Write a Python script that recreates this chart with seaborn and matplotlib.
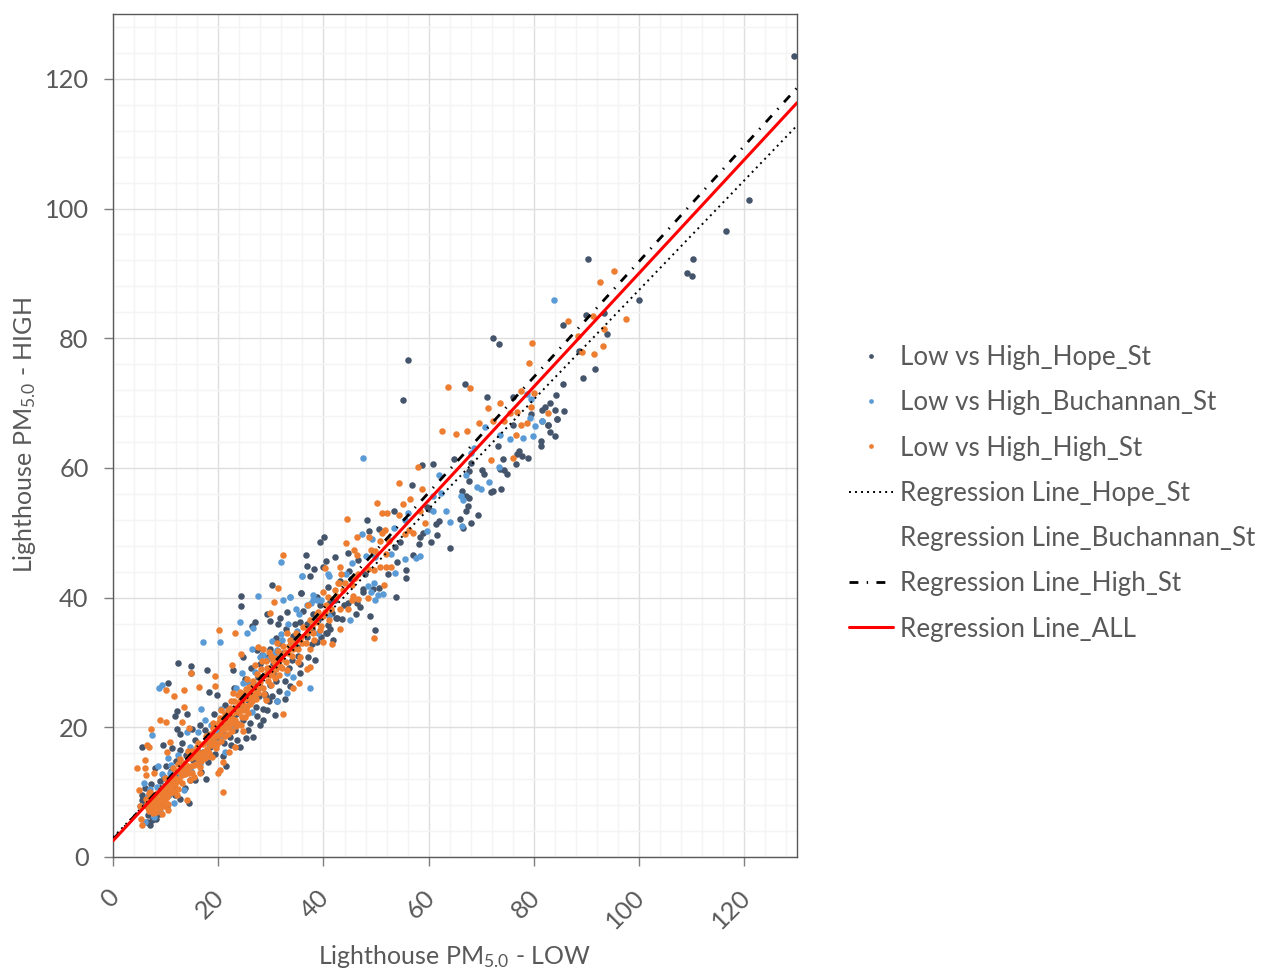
import matplotlib
matplotlib.use('Agg')
import matplotlib.pyplot as plt
from matplotlib.lines import Line2D
from matplotlib.transforms import ScaledTranslation
import seaborn as sns
import pandas as pd

# values as (low, high)
hope_pts = [
(73.4,79.1),(72.2,80),(56,76.7),(55.1,70.5),(66.9,73),(71,70.9),(76,71),(84.2,71.3),(83.1,70),(82.1,69.4),(81.5,69),(84,69),(79.4,68.3),
(84.3,67.6),(81.5,67.3),(76,66.6),(82.6,66.6),(84,64.9),(81.3,64.1),(81.3,63.4),(73.1,63.4),(77.1,62.6),(76.7,62.1),(77.7,61.9),
(78.8,61.6),(74.2,61.4),(76.6,60.6),(64.8,61.3),(58.7,60.4),(60.8,60.6),(68,60.8),(67.7,59.6),(70.2,59.7),(70.5,59),(73.6,59.8),
(74.3,59.7),(74.8,59),(67.6,58),(56.8,57.3),(73.7,56.7),(72.3,56.4),(71.8,56.3),(66.4,56.4),(67,55.6),(67.7,55.3),(67.4,54.2),
(67,53.3),(69.3,52.7),(66,52.1),(68.1,51.5),(66.5,50.8),(61.9,51.8),(61.4,51.3),(59.6,54),(60,53.7),(53.4,53.4),(48.2,51.9),
(50.6,50.6),(48.7,50.3),(61.5,49.7),(59,49.9),(58.4,49.4),(60.5,48.6),(64,47.7),(58.2,48.2),(54.6,48.6),(53.6,47.8),(40.1,49.4),
(39.4,48.6),(36.6,46.5),(44.6,46.9),(42.1,46.3),(40.5,45.6),(36.8,44.9),(38.2,44.4),(40,44.7),(57.1,46.5),(53.9,45.5),(55.6,44.3),
(55.6,43),(52.2,43.6),(37.4,43.4),(35.8,40.7),(47.6,41.4),(47.6,40.9),(50.6,41.5),(49.5,41.4),(53.7,40.1),(41.3,39.3),(42.2,39.6),
(44.7,39.1),(46.4,39.2),(47,38.5),(46.2,37.4),(48.9,37.1),(42.4,36.8),(43.5,36.7),(40.8,35.7),(49.8,35),(40.4,34.5),
(129.5,123.5),(120.9,101.3),(116.5,96.6),(110.2,92.2),(90.2,92.2),(109.1,90.1),(110,89.6),(99.9,85.9),(89.9,83.6),(93.4,83.9),
(85.6,82),(93.9,80.7),(88.6,78),(91.7,75.2),(89.3,73.9),(85.6,73),(85.8,68.8),(84.4,67.6),(82.7,66.6),(83.1,65.6),
(24.3,40.3),(24.3,38.7),(35.8,40.7),(30.2,42),(26.9,36.3),(26.5,35.6),(29.2,37.4),(29.8,36.4),(31.8,36.8),(31.4,36),(33,37.8),
(34.6,36),(35.6,36.3),(38.1,37.5),(39.4,38.8),(41.3,39.1),(42.5,36.8),(40.6,34.5),(38.7,33.2),(41.9,33.4),(38.4,30.4),(37.1,30.9),
(35.6,29.8),(12.4,29.9),(14.8,29.5),(17.9,28.9),(14.8,28.3),(22.9,28.9),(10.4,26.9),(18.2,25.4),(19.7,25),(12.1,22.5),(14.1,22),
(11.7,21.8),(12.2,19.7),(12.8,18.9),(9.5,17.2),(5.6,16.9),(13.1,17.6),(15,19.8),(16.5,20.3),(17.8,18.3),(8,13.8),(11.2,16.8),
(12.7,16.5),(21.4,14),(21,15.5),(17.7,12),(14.5,8.3),(12.7,9),(7.4,5.7),(6.4,5.4),(7,5),(5.6,9.5),(6.1,8),(5.5,8.8),(22.9,21.6),
(24.8,21.1),(26,20.6),(28,20.3),(28.6,21.1),(26.6,18.5),(25.2,18.4),(23.6,18),(24.1,16.9),(22.2,18.5),(30.8,21.9),(32.7,24.3),
(31.1,24),(29.2,22.6),(28.6,22.9),(29.9,26.5),(28.9,25.2),(27.9,26.2),(30.5,28.3),(27.9,29.8),(24.8,30.9),(27.3,31.9),(29.9,32.1),
(35.6,28.3),(9.6,12.4),(12.1,12.9),(14.6,11.9),(16.5,14.9),(18.5,17),(19.7,18.5),(15.9,16.5),(14,13.9),(11.5,10.8),(8.3,8.8),
(7,7.2),(8.9,10.3),(20.3,20.1),(21.6,20.6),(24.1,23.2),(26,25.2),(26.7,26.8),(27.6,27.8),(30.5,29.8),(32.4,31.4),(34.9,32.4),
(36.8,33.9),(39,36.5),(36.8,36),(41.3,35.2),(33.8,33.1),(35.2,31),(37.9,32.8),(31,27.2),(33.4,29.1),(34.1,30.4),(29,24.6),
(25.1,27.5),(23,26.1),(21.2,23.4),(19.2,22.1),(17.4,19.6),(15.6,18.1),(13.8,15.7),(11.9,14.8),(10.1,14.1),(9,11.7),(22.4,17.2),
(26.2,29.2),(28.3,31.2),(30.9,33.8),(32.9,35.2),(34.2,34.1),(36.1,37.9),(37.8,35.2),(39.6,33.9),(31.6,33),(29.5,30.9),(27.1,23.1),
(29.7,24),(31.5,25.6),(32.6,27.1),(33.7,26.4),(30.2,24.9),(27.4,21.8),(25.6,19.6),(23.1,19.6),(21.1,17.6),(19.4,15.9),(18.1,14.6),
(16.8,13.1),(15.5,11.8),(13.6,10.7),(11.8,9.6),(10.2,7.9),(8.7,6.6),(9.9,10.7),(11,13.3),(12.9,14.2),(15.2,15),(17.2,16.2),(20.8,19.2),
(23.4,22.1),(25.7,24.2),(27.8,24.8),(6.7,6.4),(8.1,5.9),(6,10.6),(7.3,11.2),(38.8,40.1),(40.9,41.6),(43.1,42.6),(44.9,44.1),(46.6,45.8),
(41.7,37.6),(43.9,38.9),(45.3,42.9),(47.9,43.6),
]

buchanan_pts = [
(47.5,61.5),(78.7,71.4),(79.5,70.6),(79.2,67.7),(81.5,67.3),(80.2,66.4),(70.7,66.3),(73.6,65),(75.5,64.4),(77.9,64.6),(79.8,64.9),
(68.7,63),(68.1,62.3),(73.3,60.2),(62,58.9),(67,58.9),(71.4,57.9),(69.1,57),(70,56.7),(60.8,55.7),(62.4,56.1),(66.2,55.7),(66.5,55),
(60.8,53.4),(63.2,53.4),(56,53),(55.5,52),(64,51.6),(66.3,51.1),(53.4,50.7),(47.4,49.8),(49.2,49),(59.7,50.2),(52.3,49.1),(58.4,46.4),
(57.5,46.1),(55.5,45.9),(52.8,46.7),(48.1,46.4),(49.8,46.3),(45.4,45.4),(31.9,45.5),(44.2,43.6),(36,43.4),(41,43.4),(53.6,43.8),
(49.7,42.3),(48.4,41.8),(49,40.9),(51.3,40.6),(50.4,40.4),(49.8,39.6),(33.7,40.1),(38.1,40.4),(38.1,39.6),(39.5,39.6),(41.1,37.2),
(45.1,36.5),(38.9,34.6),(83.9,85.9),(35.9,43.4),(40.8,43.6),(27.5,40.3),(33.6,40.1),(38.7,39.6),(24.1,36.3),(25.4,34.5),(26.7,35.3),
(17.2,33.2),(20.4,33.2),(32.3,39.6),(35.3,37.5),(33.3,36),(30.8,31.4),(31.1,31.9),(26.4,32.1),(27.9,30.9),(24.5,28.3),(25.4,27),
(33,28.3),(34.3,27.8),(37.4,26),(33,25.3),(31.1,24),(9.3,26.6),(8.8,26.1),(16.7,22.8),(7.5,18.8),(14.1,19.3),(17.5,21.1),(14.6,17),
(10.5,15.2),(8.6,14),(10.8,12.9),(5.8,11.4),(8.3,10.8),(13.4,10.3),(12.7,12.9),(16.5,14.4),(21.3,16.2),(17.8,16),(26.4,22.4),(24.8,26.8),
(11.5,8.3),(6.1,5.4),(7.7,6.2),(5.1,7.8),(19.7,19.6),(15.9,15.5),(10.2,11.9),(29.4,30.6),(32.1,33.4),(35,34.9),(22.6,19.9),(18.7,20.4),
(34.7,38.2),(36.9,38.9),(37.6,39.1),(30.3,33.3),(31.9,34.4),(28.6,31.1),(26.9,28.6),(23.4,26),(20.6,22.9),(16.1,19.2),(12.4,15.7),
(11.1,14.2),(9.4,12.8),(7.1,10.5),(6.6,9.4),(8.9,7.1),(10.6,9.6),(14.9,13.2),(18.2,17.4),(20.9,18.6),(27.2,25.4),(29.6,28.6),
]

high_pts = [
(79.7,79.2),(79,76.2),(63.6,72.5),(67.8,72.3),(77.6,71.8),(80,71.5),(73.6,70),(71.2,69.3),(79.4,69.4),(75.5,68.4),(76.7,68.6),(82.6,68.4),
(72.3,67.3),(74.3,67.2),(69.5,67),(78.6,67),(77.6,66.6),(62.6,65.7),(65.1,65.3),(67.2,65.7),(76.5,65),(71.8,61.2),(76.1,61.5),(58,60.2),
(54.3,57.7),(58.7,56.7),(56.5,55.2),(50.1,54.6),(55.1,54.4),(51.1,53),(52,53),(58.4,53.4),(54.4,52.8),(44.5,52.2),(59.3,51.5),(32.3,46.5),
(51.7,50.4),(51.1,50),(48.7,49.4),(46.4,49.3),(44.2,48.4),(50.8,48.7),(55.5,49.8),(57,50),(56.3,50.5),(52.5,48.8),(49,47.4),(45.8,47.4),
(46.4,46.6),(49.8,47.2),(51.9,46.7),(40.3,44.6),(43.2,44.7),(43.4,43.6),(50.8,44.7),(51.9,44.7),(52.8,44.7),(49.6,44.2),(48.4,44.4),
(46.5,43.6),(46,43),(42.9,42.2),(51.6,42),(45.4,41.9),(43.8,41.1),(42.1,41.1),(39.9,40.9),(45.6,40.2),(45.4,39.7),(46.6,39.8),(48.5,40),
(43.2,38.3),(44.6,38.2),(40.2,37.8),(43.2,35.1),(49.7,33.7),(37.1,38.8),
(95.3,90.3),(92.6,88.6),(91.3,83.5),(86.5,82.6),(97.5,83),(88.3,80.3),(93.4,81.5),(89.2,77.8),(91.5,77.6),(93.1,78.8),
(31.4,41.5),(42.8,42.2),(30.6,39.3),(29.9,37.6),(20.1,35),(23.2,34.5),(27.6,32.4),(28.6,32.1),(24.3,31.3),(22.7,29.6),(19.4,27.9),
(14.8,28.3),(19.3,26.4),(16.4,26.2),(13.5,25.7),(10.1,25.7),(11.5,24.8),(13.5,23.2),(8.9,21.2),(10.1,20.8),(13.2,20.8),(7.2,19.7),
(14.5,19.9),(6.4,17.2),(6.8,16.9),(10.9,17.7),(10.3,16.2),(6.1,15),(4.5,13.7),(6.1,13.7),(6.3,12.6),(7.8,12.9),(20.9,10),(20,12.9),
(20.3,13.4),(21,14.7),(22.1,16.2),(23.2,17),(24.7,19.4),(32.3,22.1),(29.1,24.2),(35.3,26.8),(34.2,26),(36.8,29),(37.5,29.3),(35.6,30.9),
(37.5,32),(40,33.2),(41.6,32.9),(5.3,5.8),(5.5,4.9),(5.1,7.8),(5,10.4),(14,8.8),(10.5,7.2),(9.3,6.6),
(6.5,8.2),(7,9.1),(7.4,7.6),(7.8,8.7),(8,9.6),(8.3,7.9),(8.6,8.9),(8.9,10),(9.1,8.3),(9.4,9.3),(6.9,7.1),(7.6,6.8),(8.2,7),(9,7.5),
(9.8,8.8),(10,9.9),(10.3,10.8),(10.6,11.6),(10.9,9.8),(11.2,10.7),(11.5,12.3),(11.8,11.2),(12,13.2),(12.3,10.5),(12.6,12),(12.9,13.6),
(13.1,11.4),(13.4,14.5),(13.7,12.8),(14,13.4),(14.3,15.2),(14.6,11.9),(14.8,14.1),(15.1,13),(15.4,15.9),(15.7,14.4),(16,16.8),(16.3,15.2),
(16.6,13.9),(16.9,16.1),(17.2,17.4),(17.5,15.3),(17.8,16.7),(18,18.2),(18.3,16),(18.6,17.3),(18.9,19),(19.2,17.8),(19.5,16.8),(19.8,18.6),
(20,20.2),(20.3,19),(20.6,17.9),(20.8,21),(21.1,19.8),(21.3,22.1),(21.6,20.3),(21.8,18.9),(22,21.5),(22.3,23),(22.5,20.7),(22.8,22.2),
(23,24),(23.2,21.2),(23.5,23.1),(23.7,25),(24,22.3),(24.2,24.1),(24.5,21.6),(24.7,23.4),(25,25.3),(25.2,22.8),(25.5,24.5),(25.8,26.2),
(26,23.6),(26.3,25.4),(26.6,27.2),(26.8,24.6),(27,26),(27.3,28.2),(27.6,25.3),(27.9,27),(28.2,29),(28.5,26.1),(28.8,28),(29.1,30.2),
(29.4,27.2),(29.7,29.1),(30,31),(30.3,28.4),(30.6,30),(31,29),(31.3,31.7),(31.6,28),(32,30.6),(32.4,32.6),(32.8,30),(33.2,31.4),
(33.6,33.5),(34,31),(34.4,33),(34.8,34.6),(35.2,32.1),(35.7,34),(36.2,35.5),(36.6,33),(37,35),(37.5,36.6),(38,34.5),(38.5,36.2),
(39,37.8),(39.5,35.6),(40,37.2),(40.5,38.8),(41,36.5),(41.5,38.2),
(21,20.4),(21.9,22.6),(22.7,21.3),(23.3,22.6),(23.9,23.8),(24.4,22.8),(24.9,24.4),(25.4,23.3),(25.9,25),(22.1,20),(23.6,20.7),(24.6,25.2),
(20.4,21.4),(26.5,24),(21.5,21.4),(16.2,17.6),(15,16.4),(13.6,13.2),(12.4,14.3),(11.3,11.9),(17,15.1),(18.4,18.9),(19.1,19.9),(7.2,8.4),
(8.5,8.2),(9.2,10.5),(7.9,9.2),(6.8,9.8),(9.6,7.9),(28.4,30.2),(29.3,28.4),(30.9,30.7),(31.8,29.4),
(6.2,9),(6.6,7.5),(7.1,10),(7.7,7.9),(8.4,9.9),(8.8,7.7),(9.3,9.9),(9.7,10.4),(10.2,9.2),(10.8,10.6),(11.1,11.5),(11.6,10),(12.2,11.7),
(12.7,13.1),(13.2,12.6),(13.9,14.2),(14.4,13),(14.9,15.3),(15.3,14.2),(15.8,15.4),(16.4,16.1),(16.8,14.8),(17.3,16.2),(17.7,17.7),(18.2,15.6),
(18.7,18.1),(19.3,18.6),(19.7,17.4),(20.2,20.8),(20.7,19.6),(21.2,18.6),(21.7,21.2),(22.2,22.2),(22.6,19.4),(23.1,23),(23.4,20.2),(23.8,22.4),
(24.3,20.4),(24.6,24.6),(25.1,21.6),(25.3,25.9),(25.7,22.2),(26.1,24.7),(26.4,26.3),(26.9,25.1),(27.2,24.4),(27.7,26.2),(28.1,27.8),(28.7,25.2),
(29.2,29.2),(29.8,28),(30.4,30.4),(30.8,27.6),(31.4,30.4),(32.1,29.1),(32.6,31.6),(33.4,32.5),(34.2,32.1),(35,33.4),(35.9,33),(36.8,34.5),
(37.8,35.6),(38.7,37.4),(24.1,25.4),(22.4,24.1),(21.9,20),(23,22.6),(24.8,22.6),(26.7,25.9),
(9.9,12.2),(11.4,13.8),(12.8,15.1),(14.2,16.4),(15.9,17),(17.6,18.7),(19.1,20.6),(20.6,22.6),(16.6,12.9),(15.3,12.4),(18.9,15.4),
(22.9,25.3),(25.4,27.4),(27,29.6),(29.6,31.6),(31.2,33),(33.1,34.6),(30.1,26.6),(33,28.9),(35.1,30),(38.2,33.4),(39.3,35),
(40.9,40.1),(42.4,40.3),(44.1,42.3),(12.2,9.5),(10.4,8.1),
]

line_x = [0, 130]
hope_line = [3.0, 112.8]
high_line = [2.7, 118.6]
all_line = [2.5, 116.3]

low_ticks = [0, 20, 40, 60, 80, 100, 120]
minor_ticks = list(range(0, 131, 4))

names_pts = ['Low vs High_Hope_St', 'Low vs High_Buchannan_St', 'Low vs High_High_St']
names_lines = ['Regression Line_Hope_St', 'Regression Line_Buchannan_St', 'Regression Line_High_St', 'Regression Line_ALL']
colors = ['#44546A', '#5B9BD5', '#ED7D31']
dots = (0, (1, 2.1))
dash_dot = (0, (3.2, 3, 0.5, 3))

sns.set_theme(style='white')
plt.rcParams['font.family'] = ['Lato', 'DejaVu Sans']
plt.rcParams['mathtext.default'] = 'regular'

fig = plt.figure(figsize=(12.62, 9.69), dpi=100)
ax = fig.add_axes([113 / 1262, 1 - 857 / 969, 684 / 1262, 843 / 969])

for pts, name, col in zip([hope_pts, buchanan_pts, high_pts], names_pts, colors):
    df = pd.DataFrame(pts, columns=['low', 'high'])
    sns.scatterplot(x='low', y='high', data=df, color=col, s=22, linewidth=0, ax=ax, zorder=3)

sns.lineplot(x=line_x, y=hope_line, color='black', linewidth=1.4, linestyle=dots, ax=ax, zorder=4)
sns.lineplot(x=line_x, y=high_line, color='black', linewidth=2, linestyle=dash_dot, ax=ax, zorder=4)
sns.lineplot(x=line_x, y=all_line, color='#FF0000', linewidth=2.2, ax=ax, zorder=5)

ax.set_xlim(0, 130)
ax.set_ylim(0, 130)
ax.set_xticks(low_ticks)
ax.set_yticks(low_ticks)
ax.set_xticks(minor_ticks, minor=True)
ax.set_yticks(minor_ticks, minor=True)
ax.grid(which='major', color='#DEDEDE', linewidth=1)
ax.grid(which='minor', color='#F4F4F4', linewidth=1)
ax.set_axisbelow(True)
ax.tick_params(which='minor', length=0)
ax.tick_params(which='major', length=6.5, width=1, color='#7F7F7F', labelcolor='#595959', labelsize=18.3, left=True, bottom=True)
ax.tick_params(axis='y', which='major', pad=11)
ax.tick_params(axis='x', which='major', pad=14)
plt.setp(ax.get_xticklabels(), rotation=45, ha='right', rotation_mode='anchor')
shift = ScaledTranslation(-6 / 100, 0, fig.dpi_scale_trans)
for lab in ax.get_xticklabels():
    lab.set_transform(lab.get_transform() + shift)
for side, spine in ax.spines.items():
    spine.set_color('#595959')
    spine.set_linewidth(1)

ax.set_xlabel('Lighthouse PM$_{5.0}$ - LOW', fontsize=18, color='#595959', va='center')
ax.set_ylabel('Lighthouse PM$_{5.0}$ - HIGH', fontsize=18, color='#595959', va='center')
ax.xaxis.set_label_coords(0.5, -(956 - 857) / 843)
ax.yaxis.set_label_coords(-(113 - 25) / 684, 0.5)

handles = [Line2D([], [], linestyle='', marker='o', markersize=3.4, markeredgewidth=0, color=c) for c in colors]
handles.append(Line2D([], [], color='black', linewidth=1.4, linestyle=dots))
handles.append(Line2D([], [], color='none'))
handles.append(Line2D([], [], color='black', linewidth=2, linestyle=dash_dot))
handles.append(Line2D([], [], color='#FF0000', linewidth=2.2))
fig.legend(handles, names_pts + names_lines, loc='upper left', bbox_to_anchor=(849 / 1262, 1 - 345 / 969),
           bbox_transform=fig.transFigure, frameon=False, fontsize=18.7, labelcolor='#595959',
           labelspacing=0.78, handlelength=1.7, handletextpad=0.27, borderpad=0, borderaxespad=0)

fig.savefig('out.png', dpi=100)
